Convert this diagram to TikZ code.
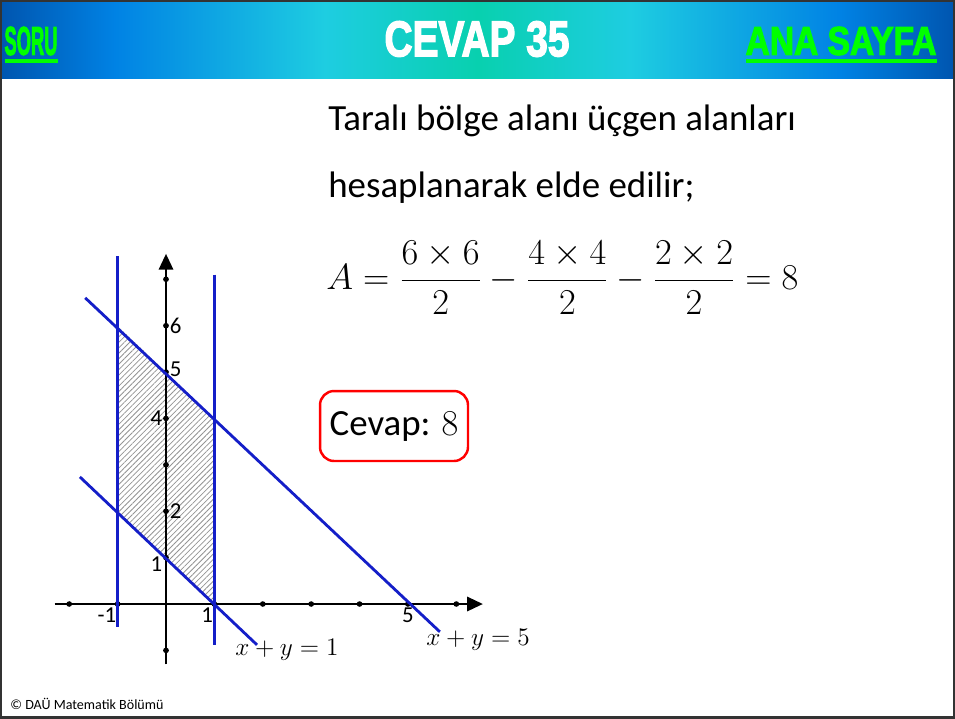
\documentclass[tikz,border=0pt]{standalone}
\usepackage{fontspec}
\setmainfont{Carlito}
\newfontfamily\headfont[BoldFeatures={FakeBold=3}]{Liberation Sans}
\usetikzlibrary{arrows.meta, positioning, patterns.meta}

\definecolor{hdblue}{RGB}{0,85,175}
\definecolor{hdmid}{RGB}{0,130,228}
\definecolor{hdcyan}{RGB}{30,205,225}
\definecolor{hdteal}{RGB}{8,208,175}
\definecolor{lingreen}{RGB}{0,255,0}
\definecolor{lineblue}{RGB}{20,30,200}
\pgfdeclarehorizontalshading{header}{100bp}{color(0bp)=(hdblue); color(25bp)=(hdblue); color(31bp)=(hdmid); color(42bp)=(hdcyan); color(50bp)=(hdteal); color(58bp)=(hdcyan); color(69bp)=(hdmid); color(75bp)=(hdblue); color(100bp)=(hdblue)}

\tikzset{
  axis/.style = {line width=1.6pt, -{Triangle[length=9pt, width=8pt]}},
  bound/.style = {lineblue, line width=1.6pt},
  hatch/.style = {fill=gray!22, pattern={Lines[angle=45, distance=2.2pt, line width=0.45pt]}, pattern color=gray!85},
  ticklab/.style = {font=\fontsize{13}{15}\selectfont, inner sep=2pt},
  bodytext/.style = {anchor=base west, inner sep=0pt, font=\fontsize{21}{25}\selectfont},
}

\begin{document}
\begin{tikzpicture}[x=0.02cm, y=-0.02cm]
    \useasboundingbox (0,0) rectangle (955,718);
    \fill[white] (0,0) rectangle (955,718);

    % header band
    \shade[shading=header] (0,0) rectangle (955,78);
    \node (soru) at (31,41) {\resizebox{1.06cm}{0.56cm}{\headfont\bfseries\color{lingreen}SORU}};
    \node (title) at (477,39) {\resizebox{3.7cm}{0.7cm}{\headfont\bfseries\color{white}CEVAP 35}};
    \node (anasayfa) at (841,41) {\resizebox{3.82cm}{0.56cm}{\headfont\bfseries\color{lingreen}ANA SAYFA}};
    \fill[lingreen] (5,59) rectangle (58,63);
    \fill[lingreen] (746,59) rectangle (937,63);

    % text
    \node[bodytext] (line1) at (328,130) {Taralı bölge alanı üçgen alanları};
    \node[bodytext] (line2) at (328,197) {hesaplanarak elde edilir;};
    \node[bodytext, anchor=west, font=\fontsize{20.5}{24}\selectfont] (formula) at (326,278)
        {$\displaystyle A=\frac{6\times6}{2}-\frac{4\times4}{2}-\frac{2\times2}{2}=8$};
    \node[draw=red, line width=1.4pt, rounded corners=8pt, minimum width=2.96cm,
          minimum height=1.4cm, font=\fontsize{21}{25}\selectfont] (answer) at (394,426) {Cevap: $8$};
    \node[anchor=base west, inner sep=0pt, font=\fontsize{8}{10}\selectfont] (footer) at (10,709)
        {© DAÜ Matematik Bölümü};

    % graph
    \begin{scope}[shift={(166,604)}, x=0.968cm, y=0.928cm]
        \fill[hatch] (-1,2) -- (-1,6) -- (1,4) -- (1,0) -- cycle;
        \draw[axis] (-2.3,0) -- (6.55,0);
        \draw[axis] (0,-1.3) -- (0,7.55);
        \foreach \t in {-2,-1,1,2,3,4,5,6}
            \fill (\t,0) circle (0.06);
        \foreach \t in {-1,1,2,3,4,5,6,7}
            \fill (0,\t) circle (0.06);
        \draw[bound] (-1,7.5) -- (-1,-0.5);
        \draw[bound] (1,7.1) -- (1,-0.88);
        \draw[bound] (-1.67,6.6) -- (5.66,-0.6);
        \draw[bound] (-1.78,2.74) -- (1.88,-0.88);

        \node[ticklab, right] (y6) at (0,6) {6};
        \node[ticklab, above right] (y5) at (0,4.82) {5};
        \node[ticklab, left] (y4) at (0,4) {4};
        \node[ticklab, right] (y2) at (0,2) {2};
        \node[ticklab, left] (y1) at (0,0.85) {1};
        \node[ticklab, below left] (xm1) at (-0.95,0) {-1};
        \node[ticklab, below left] (x1) at (1.05,0) {1};
        \node[ticklab, below] (x5) at (5,0) {5};
        \node[font=\fontsize{14}{16}\selectfont] (eq1) at (2.5,-0.98) {$x+y=1$};
        \node[font=\fontsize{14}{16}\selectfont] (eq5) at (6.45,-0.78) {$x+y=5$};
    \end{scope}

    \draw[black!80, line width=1.2pt] (0.5,0.5) rectangle (954.5,717.5);
\end{tikzpicture}
\end{document}
